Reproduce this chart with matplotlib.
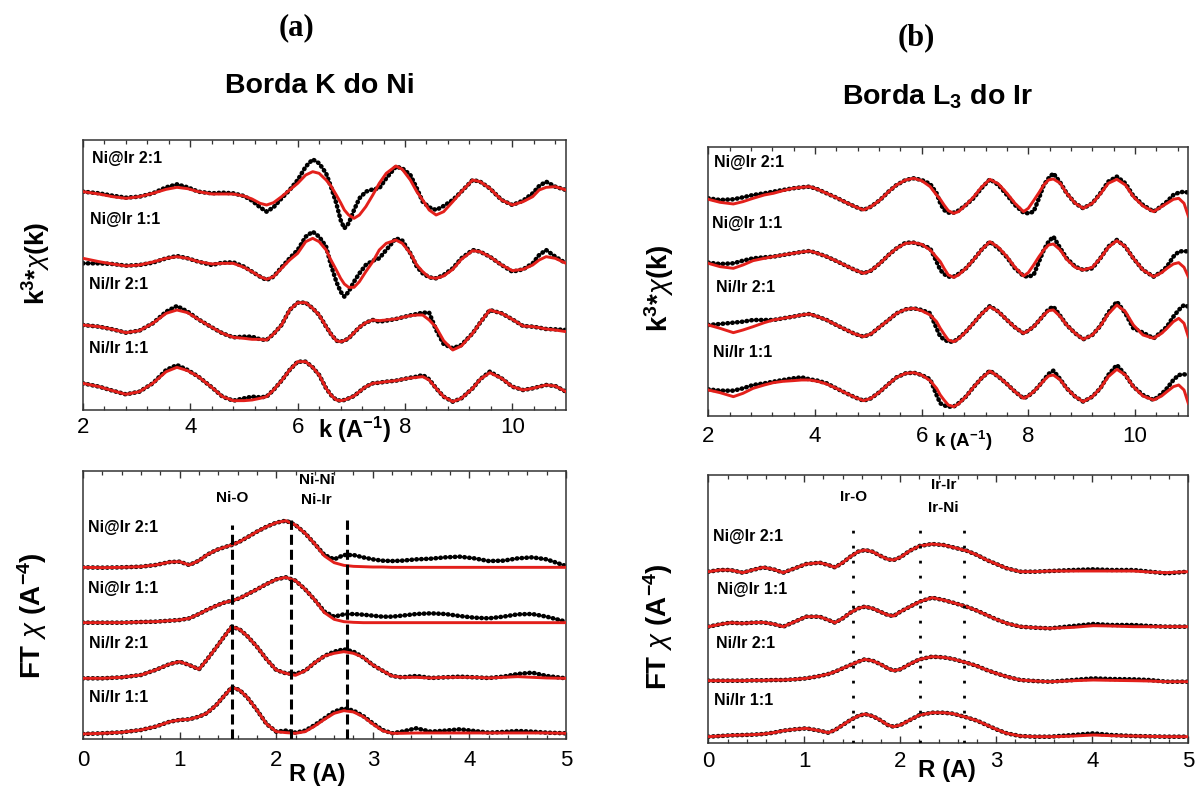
import matplotlib
matplotlib.use("Agg")
import matplotlib.pyplot as plt
from matplotlib.ticker import MultipleLocator

plt.rcParams['font.family'] = ['Liberation Sans', 'DejaVu Sans']
plt.rcParams['mathtext.fontset'] = 'custom'
plt.rcParams['mathtext.rm'] = 'Liberation Sans'
plt.rcParams['mathtext.it'] = 'Liberation Sans:italic'
plt.rcParams['mathtext.bf'] = 'Liberation Sans:bold'

samples = ["Ni@Ir 2:1", "Ni@Ir 1:1", "Ni/Ir 2:1", "Ni/Ir 1:1"]

# ---------------- Ni K edge, k-space (a, top) ----------------
k_ni = [2.0, 2.3, 2.55, 2.8, 3.05, 3.3, 3.55, 3.75, 3.95, 4.15, 4.4, 4.6, 4.8, 5.0, 5.15,
        5.3, 5.42, 5.55, 5.7, 5.85, 6.0, 6.15, 6.28, 6.4, 6.53, 6.62, 6.72, 6.8, 6.87, 6.95,
        7.05, 7.15, 7.27, 7.4, 7.52, 7.65, 7.83, 7.95, 8.1, 8.22, 8.33, 8.45, 8.58, 8.72,
        8.89, 9.05, 9.26, 9.4, 9.58, 9.8, 10.0, 10.2, 10.38, 10.5, 10.63, 10.8, 11.0]
nik_obs_1 = [65.5, 65.0, 64.3, 63.7, 64.0, 65.0, 66.8, 67.7, 66.8, 65.5, 65.0, 65.2, 65.0, 64.2, 62.8,
             60.8, 59.5, 60.8, 63.5, 66.0, 69.0, 73.0, 75.2, 74.0, 71.0, 67.0, 62.0, 57.0, 54.5, 56.0,
             60.0, 63.5, 65.5, 66.2, 66.5, 69.5, 73.0, 72.5, 70.5, 66.5, 62.5, 60.8, 60.0, 61.2,
             63.0, 65.5, 69.0, 68.5, 66.5, 63.0, 61.5, 62.8, 65.0, 67.2, 68.5, 67.0, 66.0]
nik_fit_1 = [65.5, 64.8, 64.0, 63.5, 64.0, 65.0, 66.2, 66.8, 66.4, 65.5, 64.8, 64.8, 64.8, 64.2, 63.3,
             62.0, 61.5, 62.2, 64.0, 66.0, 68.0, 70.5, 71.5, 71.0, 69.0, 67.2, 64.5, 62.2, 60.0, 58.5,
             57.5, 58.5, 61.0, 64.5, 68.0, 71.0, 73.2, 72.2, 69.0, 65.5, 63.0, 60.0, 58.5, 59.5,
             62.5, 65.5, 69.0, 68.5, 66.5, 63.0, 61.5, 62.5, 64.0, 66.0, 66.8, 67.0, 66.0]
nik_obs_2 = [44.0, 44.0, 43.8, 43.3, 43.5, 44.2, 45.5, 46.2, 45.5, 44.5, 43.5, 44.2, 44.3, 43.0, 41.5,
             40.0, 39.0, 40.0, 42.8, 45.5, 48.0, 52.0, 53.5, 52.0, 49.0, 43.5, 38.5, 35.5, 34.0, 35.5,
             38.5, 41.0, 43.5, 44.8, 45.5, 48.0, 51.5, 50.8, 47.0, 43.0, 41.0, 39.8, 39.5, 40.5,
             42.5, 45.5, 48.0, 47.5, 46.0, 43.5, 41.5, 42.2, 44.0, 46.5, 48.0, 46.0, 44.0]
nik_fit_2 = [45.5, 44.5, 43.8, 43.2, 43.5, 44.4, 45.5, 46.0, 45.5, 44.5, 43.8, 44.0, 44.0, 42.8, 41.5,
             40.0, 39.2, 40.0, 42.5, 45.0, 47.0, 50.5, 51.5, 50.5, 48.0, 45.0, 42.0, 39.5, 37.8, 36.8,
             36.8, 38.5, 41.5, 44.5, 48.0, 50.0, 51.0, 50.0, 47.0, 43.5, 41.5, 39.8, 39.5, 40.2,
             42.2, 45.2, 47.8, 47.5, 46.0, 43.5, 41.8, 42.2, 43.5, 45.0, 46.0, 45.5, 44.0]
nik_obs_3 = [25.5, 25.0, 24.2, 23.2, 23.8, 26.0, 29.5, 31.2, 29.5, 27.2, 24.8, 23.0, 21.8, 22.0, 22.0,
             21.2, 21.0, 22.8, 25.5, 30.0, 32.2, 32.2, 30.5, 28.5, 25.0, 22.8, 20.8, 20.5, 20.8, 21.5,
             23.2, 24.8, 26.2, 27.0, 26.5, 26.8, 27.3, 27.8, 28.4, 28.8, 29.2, 29.2, 24.0, 19.8,
             18.5, 19.5, 23.0, 26.2, 30.0, 29.0, 27.2, 25.2, 25.0, 24.7, 24.3, 24.2, 24.0]
nik_fit_3 = [25.5, 25.0, 24.2, 23.2, 23.8, 26.0, 29.0, 30.0, 29.2, 27.2, 24.8, 23.0, 21.8, 21.5, 21.2,
             21.2, 21.0, 22.8, 25.5, 30.0, 32.2, 32.2, 30.5, 28.5, 25.0, 22.8, 20.8, 20.5, 20.8, 21.5,
             23.2, 24.8, 26.2, 27.0, 26.8, 27.0, 27.3, 27.8, 28.3, 28.5, 28.5, 27.0, 24.8, 20.8,
             18.0, 19.2, 23.0, 26.2, 30.0, 29.0, 27.2, 25.2, 25.0, 24.7, 24.3, 24.0, 23.5]
nik_obs_4 = [8.0, 7.0, 5.8, 4.7, 5.5, 8.0, 12.0, 13.5, 12.0, 10.0, 6.8, 4.0, 2.8, 3.5, 4.0,
             3.8, 4.0, 6.0, 8.8, 12.0, 14.5, 14.5, 12.8, 10.5, 6.5, 4.5, 3.0, 2.8, 3.0, 3.5,
             4.2, 5.5, 7.0, 8.0, 8.2, 8.5, 8.8, 9.2, 9.7, 10.0, 10.5, 9.2, 6.5, 4.0,
             2.5, 3.5, 6.5, 9.2, 11.5, 9.5, 7.0, 6.0, 6.5, 7.0, 7.5, 7.2, 5.5]
nik_fit_4 = [8.0, 7.0, 5.8, 4.7, 5.5, 8.0, 11.5, 12.8, 11.8, 10.0, 6.8, 4.0, 2.8, 2.8, 3.0,
             3.5, 4.0, 6.0, 8.8, 12.0, 14.5, 14.5, 12.8, 10.5, 6.5, 4.5, 3.0, 2.8, 3.0, 3.5,
             4.2, 5.5, 7.0, 8.0, 8.2, 8.5, 8.8, 9.2, 9.6, 9.8, 10.0, 9.0, 6.5, 4.0,
             2.5, 3.5, 6.5, 9.2, 11.2, 9.5, 7.0, 6.0, 6.5, 7.0, 7.5, 7.2, 5.5]

# ---------------- Ni K edge, R-space (a, bottom) ----------------
r_ni = [0.0, 0.2, 0.4, 0.6, 0.75, 0.9, 1.0, 1.1, 1.2, 1.28, 1.38, 1.46, 1.54, 1.62, 1.7, 1.8,
        1.9, 2.0, 2.1, 2.2, 2.3, 2.4, 2.5, 2.6, 2.7, 2.8, 2.9, 3.0, 3.1, 3.2, 3.3, 3.45, 3.6,
        3.75, 3.9, 4.05, 4.2, 4.35, 4.5, 4.65, 4.8, 5.0]
nir_obs_1 = [51.6, 51.5, 51.6, 51.8, 52.3, 53.2, 53.3, 52.3, 53.6, 55.3, 56.8, 57.6, 58.3, 59.3, 60.6,
             62.3, 63.8, 65.0, 65.6, 64.3, 61.8, 58.6, 55.3, 54.0, 55.3, 55.3, 54.6, 54.0, 53.6, 53.5,
             53.6, 54.0, 54.2, 54.6, 54.8, 54.3, 53.5, 53.6, 54.3, 54.6, 54.0, 52.0]
nir_fit_1 = [51.6, 51.5, 51.6, 51.8, 52.3, 53.2, 53.3, 52.3, 53.6, 55.3, 56.8, 57.6, 58.3, 59.3, 60.6,
             62.3, 63.8, 65.0, 65.6, 64.3, 61.8, 58.6, 55.0, 53.0, 52.2, 51.9, 51.8, 51.7, 51.7, 51.6,
             51.6, 51.6, 51.6, 51.6, 51.6, 51.6, 51.6, 51.6, 51.6, 51.6, 51.6, 51.6]
nir_obs_2 = [35.0, 35.0, 35.0, 35.2, 35.3, 35.6, 35.8, 36.3, 37.6, 38.8, 40.1, 41.0, 41.6, 42.3, 43.5,
             45.0, 46.6, 48.0, 48.6, 47.6, 45.0, 41.8, 38.3, 36.8, 37.5, 37.6, 37.4, 37.1, 36.8, 36.8,
             37.1, 37.6, 37.8, 37.6, 37.0, 36.5, 36.3, 36.8, 37.5, 37.6, 36.8, 35.3]
nir_fit_2 = [35.0, 35.0, 35.0, 35.2, 35.3, 35.6, 35.8, 36.3, 37.6, 38.8, 40.1, 41.0, 41.6, 42.3, 43.5,
             45.0, 46.6, 48.0, 48.6, 47.6, 45.0, 41.8, 38.0, 36.0, 35.3, 35.1, 35.0, 35.0, 35.0, 35.0,
             35.0, 35.0, 35.0, 35.0, 35.0, 35.0, 35.0, 35.0, 35.0, 35.0, 35.0, 35.0]
nir_obs_3 = [18.3, 18.3, 18.6, 19.3, 20.8, 22.6, 23.3, 22.3, 21.0, 23.8, 27.6, 30.8, 33.8, 33.0, 31.0,
             27.8, 24.0, 20.8, 19.8, 19.6, 20.6, 23.0, 25.0, 26.3, 27.0, 26.3, 24.6, 22.3, 20.6, 19.0,
             18.6, 19.0, 18.4, 18.6, 18.8, 18.6, 18.4, 18.8, 19.6, 20.0, 19.0, 18.3]
nir_fit_3 = [18.3, 18.3, 18.6, 19.3, 20.8, 22.6, 23.3, 22.3, 21.0, 23.8, 27.6, 30.8, 33.8, 33.0, 31.0,
             27.8, 24.0, 20.8, 19.8, 19.2, 20.6, 23.0, 25.0, 25.8, 26.3, 25.8, 24.6, 22.3, 20.6, 19.0,
             18.6, 18.6, 18.4, 18.6, 18.6, 18.6, 18.4, 18.6, 18.8, 18.6, 18.4, 18.3]
nir_obs_4 = [1.6, 1.8, 2.1, 2.8, 3.8, 5.3, 5.8, 6.0, 6.8, 7.8, 10.3, 13.0, 15.6, 14.8, 12.6,
             8.8, 4.6, 2.3, 2.6, 2.0, 2.6, 4.3, 6.3, 8.3, 9.3, 8.6, 7.0, 4.8, 2.8, 1.8,
             2.3, 3.3, 2.3, 2.6, 3.0, 2.5, 2.0, 2.2, 2.5, 2.3, 2.0, 1.8]
nir_fit_4 = [1.6, 1.8, 2.1, 2.8, 3.8, 5.3, 5.8, 6.0, 6.8, 7.8, 10.3, 13.0, 15.6, 14.8, 12.6,
             8.8, 4.6, 2.3, 2.0, 1.8, 2.3, 4.0, 6.0, 7.8, 8.6, 8.2, 6.8, 4.6, 2.6, 1.8,
             1.8, 1.9, 1.9, 1.9, 1.9, 1.9, 1.9, 1.9, 1.9, 1.9, 1.9, 1.8]

# ---------------- Ir L3 edge, k-space (b, top) ----------------
k_ir = [2.0, 2.22, 2.47, 2.65, 2.84, 3.05, 3.22, 3.4, 3.59, 3.75, 3.9, 4.05, 4.22, 4.4, 4.59,
        4.75, 4.91, 5.05, 5.22, 5.38, 5.53, 5.7, 5.85, 6.0, 6.16, 6.28, 6.35, 6.42, 6.5, 6.6,
        6.69, 6.83, 6.97, 7.12, 7.28, 7.44, 7.6, 7.75, 7.91, 8.0, 8.1, 8.2, 8.29, 8.38, 8.47,
        8.6, 8.72, 8.88, 9.03, 9.2, 9.35, 9.5, 9.66, 9.82, 9.97, 10.15, 10.35, 10.5, 10.6,
        10.72, 10.82, 10.92, 11.0]
irk_obs_1 = [65.3, 64.8, 65.0, 65.6, 66.3, 66.8, 67.3, 67.8, 68.3, 68.6, 68.8, 68.0, 66.8, 65.5, 64.0,
             62.8, 61.8, 62.8, 64.8, 67.3, 69.3, 70.8, 71.3, 70.8, 69.6, 66.8, 63.8, 61.8, 61.0, 61.0,
             61.6, 63.3, 65.3, 68.3, 71.0, 69.3, 66.3, 63.3, 61.0, 60.8, 61.3, 65.3, 69.3, 71.3, 72.8,
             70.0, 66.8, 63.8, 62.3, 63.8, 66.8, 70.3, 71.8, 69.8, 66.0, 63.3, 61.3, 63.0, 64.3,
             66.3, 67.0, 67.3, 67.0]
irk_fit_1 = [65.0, 64.1, 63.6, 64.3, 65.3, 66.3, 66.8, 67.6, 68.3, 68.6, 68.8, 68.0, 66.8, 65.5, 64.0,
             62.8, 61.8, 62.8, 64.8, 67.3, 69.3, 70.8, 71.3, 70.6, 68.8, 66.3, 65.0, 63.3, 61.6, 60.8,
             61.3, 63.3, 65.6, 68.6, 71.0, 69.6, 66.8, 63.8, 61.3, 62.3, 64.6, 67.0, 69.3, 70.8, 71.1,
             69.8, 66.8, 63.8, 62.3, 63.8, 66.6, 69.8, 71.0, 69.3, 65.8, 63.0, 61.3, 62.8, 63.8,
             65.0, 65.3, 63.8, 60.0]
irk_obs_2 = [46.0, 45.6, 45.8, 46.6, 47.3, 47.6, 47.8, 48.3, 48.8, 49.2, 49.5, 48.8, 47.8, 46.5, 45.0,
             43.8, 42.8, 43.6, 45.8, 48.3, 50.3, 52.0, 52.0, 51.3, 50.3, 46.3, 43.8, 42.6, 41.8, 41.8,
             42.6, 44.3, 46.8, 49.8, 52.3, 50.3, 47.6, 44.3, 42.0, 41.8, 42.3, 46.3, 49.8, 52.3, 53.8,
             50.3, 47.3, 44.8, 43.8, 44.3, 47.3, 50.8, 52.8, 50.8, 47.3, 43.8, 41.8, 43.3, 44.8,
             47.8, 49.3, 49.5, 49.3]
irk_fit_2 = [45.8, 44.8, 44.3, 45.3, 46.6, 47.3, 47.8, 48.3, 48.8, 49.2, 49.5, 48.8, 47.8, 46.5, 45.0,
             43.8, 42.8, 43.6, 45.8, 48.3, 50.3, 51.8, 52.0, 51.5, 49.8, 47.6, 46.3, 44.3, 42.3, 41.6,
             42.3, 44.3, 46.8, 49.8, 52.3, 50.6, 47.8, 44.6, 42.0, 43.0, 45.3, 47.8, 49.8, 51.3, 51.6,
             49.8, 47.0, 44.6, 43.8, 44.6, 47.3, 50.6, 52.6, 50.8, 47.3, 43.8, 41.8, 43.0, 44.3,
             45.6, 46.0, 44.6, 41.8]
irk_obs_3 = [27.3, 27.6, 28.0, 28.3, 28.8, 28.8, 28.8, 29.3, 29.8, 30.3, 30.6, 29.8, 28.8, 27.3, 25.8,
             24.6, 23.8, 24.6, 26.8, 28.8, 30.8, 32.0, 32.3, 31.8, 30.8, 26.3, 23.8, 23.0, 22.3, 22.3,
             23.3, 25.3, 27.8, 30.6, 33.0, 31.3, 28.8, 26.6, 24.8, 25.6, 26.8, 28.6, 30.3, 32.0, 32.8,
             30.0, 27.3, 24.8, 23.0, 24.3, 27.0, 31.0, 34.3, 30.8, 26.3, 25.0, 23.3, 25.3, 26.8,
             29.8, 31.8, 33.3, 32.8]
irk_fit_3 = [27.3, 26.3, 25.0, 25.8, 26.8, 28.0, 28.8, 29.3, 29.8, 30.3, 30.6, 29.8, 28.8, 27.3, 25.8,
             24.6, 23.8, 24.6, 26.8, 28.8, 30.8, 32.0, 32.3, 31.6, 30.3, 28.3, 26.3, 24.6, 22.8, 22.3,
             23.1, 25.3, 27.8, 30.6, 32.8, 31.3, 28.8, 26.6, 24.8, 25.6, 26.8, 28.6, 30.3, 31.6, 31.8,
             29.8, 27.3, 24.8, 23.0, 24.3, 27.0, 30.6, 33.3, 31.3, 27.3, 24.3, 23.3, 24.8, 26.3,
             28.3, 29.3, 27.8, 23.8]
irk_obs_4 = [8.0, 7.6, 7.6, 8.3, 9.3, 9.8, 10.3, 10.8, 11.3, 11.6, 11.0, 10.6, 9.8, 8.3, 6.8,
             5.6, 4.6, 5.3, 7.3, 9.6, 11.6, 12.8, 13.0, 12.3, 11.0, 6.3, 3.8, 3.2, 2.8, 2.8,
             3.8, 5.8, 8.6, 11.3, 13.6, 11.8, 9.6, 7.3, 5.3, 6.0, 7.3, 9.0, 10.8, 12.6, 13.6,
             11.0, 8.3, 5.8, 4.3, 5.8, 8.3, 12.3, 15.3, 12.3, 8.8, 6.3, 4.8, 6.6, 8.3,
             10.8, 12.3, 12.5, 12.3]
irk_fit_4 = [7.8, 7.0, 5.8, 6.8, 8.3, 9.3, 10.0, 10.4, 10.6, 10.8, 10.8, 10.4, 9.6, 8.3, 6.8,
             5.6, 4.6, 5.3, 7.3, 9.6, 11.6, 12.8, 13.0, 12.3, 10.6, 8.3, 6.3, 4.8, 3.3, 2.8,
             3.6, 5.8, 8.6, 11.3, 13.5, 11.8, 9.6, 7.3, 5.3, 6.0, 7.3, 9.0, 10.6, 12.0, 12.3,
             10.8, 8.3, 5.8, 4.3, 5.8, 8.3, 11.8, 14.0, 12.3, 8.8, 6.0, 4.8, 6.0, 7.3,
             8.8, 9.3, 7.8, 3.8]

# ---------------- Ir L3 edge, R-space (b, bottom) ----------------
r_ir = [0.0, 0.12, 0.23, 0.36, 0.46, 0.57, 0.68, 0.78, 0.9, 1.02, 1.16, 1.25, 1.32, 1.4, 1.48,
        1.56, 1.63, 1.71, 1.79, 1.87, 1.93, 2.0, 2.1, 2.2, 2.33, 2.45, 2.55, 2.69, 2.8, 2.9,
        3.0, 3.11, 3.25, 3.4, 3.56, 3.8, 4.01, 4.2, 4.43, 4.6, 4.77, 5.0]
irr_obs_1 = [51.3, 51.8, 51.8, 51.0, 51.8, 52.6, 52.0, 51.0, 52.3, 53.6, 54.0, 53.3, 52.6, 54.0, 55.8,
             57.3, 57.8, 57.3, 56.1, 55.0, 54.8, 55.6, 57.6, 59.0, 59.6, 59.3, 58.6, 57.6, 56.3, 54.8,
             53.6, 52.3, 51.3, 51.3, 51.5, 51.8, 52.0, 51.8, 51.8, 51.3, 50.8, 51.3]
irr_fit_1 = [51.3, 51.8, 51.8, 51.0, 51.8, 52.6, 52.0, 51.0, 52.3, 53.6, 54.0, 53.3, 52.6, 54.0, 55.8,
             57.3, 57.8, 57.3, 56.1, 55.0, 54.8, 55.6, 57.6, 59.0, 59.6, 59.3, 58.6, 57.6, 56.3, 54.8,
             53.6, 52.3, 51.3, 51.3, 51.5, 51.5, 51.5, 51.5, 51.5, 51.2, 51.0, 51.3]
irr_obs_2 = [34.8, 35.5, 36.0, 35.8, 36.0, 36.1, 35.6, 34.8, 36.3, 37.8, 37.8, 36.8, 36.0, 37.3, 39.0,
             40.3, 40.8, 40.3, 39.3, 38.3, 38.0, 39.3, 40.8, 42.3, 43.5, 42.8, 42.0, 40.8, 39.6, 38.3,
             37.0, 35.8, 34.8, 34.5, 34.3, 35.0, 35.6, 35.3, 35.3, 35.0, 34.8, 34.8]
irr_fit_2 = [34.8, 35.5, 36.0, 35.8, 36.0, 36.1, 35.6, 34.8, 36.3, 37.8, 37.8, 36.8, 36.0, 37.3, 39.0,
             40.3, 40.8, 40.3, 39.3, 38.3, 38.0, 39.3, 40.8, 42.3, 43.5, 42.8, 42.0, 40.8, 39.6, 38.3,
             37.0, 35.8, 34.8, 34.5, 34.3, 34.6, 35.1, 35.0, 34.8, 34.8, 34.8, 34.8]
irr_obs_3 = [18.6, 18.6, 18.6, 18.6, 18.7, 18.7, 18.8, 18.8, 19.0, 19.3, 20.0, 20.6, 21.3, 22.3, 23.3,
             24.3, 25.0, 24.6, 23.6, 22.3, 21.6, 22.0, 23.6, 25.0, 25.8, 25.6, 25.1, 24.0, 23.0, 21.8,
             20.8, 19.8, 18.8, 18.5, 18.3, 18.8, 19.3, 19.1, 19.0, 18.8, 18.3, 18.3]
irr_fit_3 = [18.6, 18.6, 18.6, 18.6, 18.7, 18.7, 18.8, 18.8, 19.0, 19.3, 20.0, 20.6, 21.3, 22.3, 23.3,
             24.3, 25.0, 24.6, 23.6, 22.3, 21.6, 22.0, 23.6, 25.0, 25.8, 25.6, 25.1, 24.0, 23.0, 21.8,
             20.8, 19.8, 18.8, 18.5, 18.3, 18.6, 18.8, 18.7, 18.6, 18.5, 18.3, 18.3]
irr_obs_4 = [1.8, 2.0, 2.2, 2.3, 2.4, 2.6, 3.0, 3.6, 4.0, 4.3, 3.6, 3.0, 3.8, 5.3, 6.8,
             8.0, 8.6, 8.0, 6.8, 5.3, 4.8, 5.3, 6.8, 8.3, 9.0, 9.0, 8.7, 7.6, 6.6, 5.3,
             4.0, 2.8, 2.0, 1.8, 1.8, 2.3, 2.8, 2.3, 2.0, 1.9, 1.8, 1.8]
irr_fit_4 = [1.8, 2.0, 2.2, 2.3, 2.4, 2.6, 3.0, 3.6, 4.0, 4.3, 3.6, 3.0, 3.8, 5.3, 6.8,
             8.0, 8.6, 8.0, 6.8, 5.3, 4.8, 5.3, 6.8, 8.3, 9.0, 9.0, 8.7, 7.6, 6.6, 5.3,
             4.0, 2.8, 2.0, 1.8, 1.8, 2.0, 2.3, 2.1, 2.0, 1.9, 1.8, 1.8]

# peak markers
ni_peak_r = [1.54, 2.15, 2.73]
ni_peak_top = [64.3, 65.8, 65.8]
ir_peak_r = [1.51, 2.21, 2.66]
ir_peak_top = [65.8, 65.3, 65.3]

RED = '#e3201b'

fig = plt.figure(figsize=(11.95, 7.94), dpi=100)

ax_tl = fig.add_axes([0.06946, 0.48363, 0.40418, 0.34005])
ax_bl = fig.add_axes([0.06946, 0.06889, 0.40418, 0.33829])
ax_tr = fig.add_axes([0.59272, 0.47607, 0.40167, 0.33841])
ax_br = fig.add_axes([0.59272, 0.06461, 0.40167, 0.33715])


def draw_curves(ax, x, obs_list, fit_list):
    for obs, fit in zip(obs_list, fit_list):
        ax.plot(x, obs, color='black', lw=3.3, ls=(0, (0.1, 0.95)),
                dash_capstyle='round', zorder=2)
        ax.plot(x, fit, color=RED, lw=2.1, zorder=3)


def style_axes(ax, xlim, ylim, major, minor, pad):
    ax.set_xlim(*xlim)
    ax.set_ylim(*ylim)
    ax.set_yticks([])
    ax.xaxis.set_major_locator(MultipleLocator(major))
    ax.xaxis.set_minor_locator(MultipleLocator(minor))
    ax.tick_params(axis='x', which='major', direction='in', top=True, bottom=True,
                   length=5, width=1.0, labelsize=16, pad=pad, color='#333333')
    ax.tick_params(axis='x', which='minor', direction='in', top=True, bottom=True,
                   length=3, width=0.9, color='#333333')
    for sp in ax.spines.values():
        sp.set_color('#333333')
        sp.set_linewidth(1.1)


def sample_labels(ax, xs, ys):
    for name, x, y in zip(samples, xs, ys):
        ax.text(x, y, name, transform=ax.transAxes, ha='left', va='center',
                fontsize=11.5, fontweight='bold')


# --- top-left
draw_curves(ax_tl, k_ni, [nik_obs_1, nik_obs_2, nik_obs_3, nik_obs_4],
            [nik_fit_1, nik_fit_2, nik_fit_3, nik_fit_4])
style_axes(ax_tl, (2, 11), (0, 81), 2, 0.4, 5)
sample_labels(ax_tl, [0.018, 0.0145, 0.013, 0.013], [0.933, 0.707, 0.463, 0.226])
ax_tl.text(0.563, -0.074, r'k (A$^{\mathbf{-1}}$)', transform=ax_tl.transAxes,
           ha='center', va='center', fontsize=17, fontweight='bold')
ax_tl.text(-0.095, 0.544, r'k$^{\mathbf{3}}$*$\chi$(k)', transform=ax_tl.transAxes,
           rotation=90, ha='center', va='center', fontsize=19, fontweight='bold')

# --- bottom-left
draw_curves(ax_bl, r_ni, [nir_obs_1, nir_obs_2, nir_obs_3, nir_obs_4],
            [nir_fit_1, nir_fit_2, nir_fit_3, nir_fit_4])
style_axes(ax_bl, (0, 5), (0, 80.6), 1, 0.2, 8)
for r, top in zip(ni_peak_r, ni_peak_top):
    ax_bl.plot([r, r], [0, top], color='black', lw=2.2, ls=(0, (3.3, 1.6)), zorder=4)
ax_bl.text(1.54, 72.3, 'Ni-O', ha='center', va='center', fontsize=11, fontweight='bold')
ax_bl.text(2.42, 77.8, 'Ni-Ni', ha='center', va='center', fontsize=11, fontweight='bold')
ax_bl.text(2.42, 71.8, 'Ni-Ir', ha='center', va='center', fontsize=11, fontweight='bold')
sample_labels(ax_bl, [0.011, 0.011, 0.013, 0.013], [0.787, 0.563, 0.358, 0.157])
ax_bl.text(0.484, -0.131, 'R (A)', transform=ax_bl.transAxes,
           ha='center', va='center', fontsize=17, fontweight='bold')
ax_bl.text(-0.106, 0.459, r'FT $\chi$ (A$^{\mathbf{-4}}$)', transform=ax_bl.transAxes,
           rotation=90, ha='center', va='center', fontsize=20, fontweight='bold')

# --- top-right
draw_curves(ax_tr, k_ir, [irk_obs_1, irk_obs_2, irk_obs_3, irk_obs_4],
            [irk_fit_1, irk_fit_2, irk_fit_3, irk_fit_4])
style_axes(ax_tr, (2, 11), (0, 80.6), 2, 0.4, 7)
sample_labels(ax_tr, [0.0125, 0.008, 0.015, 0.0104], [0.944, 0.717, 0.48, 0.238])
ax_tr.text(0.531, -0.093, r'k (A$^{\mathbf{-1}}$)', transform=ax_tr.transAxes,
           ha='center', va='center', fontsize=13.5, fontweight='bold')
ax_tr.text(-0.102, 0.476, r'k$^{\mathbf{3}}$*$\chi$(k)', transform=ax_tr.transAxes,
           rotation=90, ha='center', va='center', fontsize=20, fontweight='bold')

# --- bottom-right
draw_curves(ax_br, r_ir, [irr_obs_1, irr_obs_2, irr_obs_3, irr_obs_4],
            [irr_fit_1, irr_fit_2, irr_fit_3, irr_fit_4])
style_axes(ax_br, (0, 5), (0, 80.3), 1, 0.2, 6)
for r, top in zip(ir_peak_r, ir_peak_top):
    ax_br.plot([r, r], [0, top], color='black', lw=2.0, ls=(0, (1.0, 4.4)), zorder=4)
ax_br.text(1.51, 73.8, 'Ir-O', ha='center', va='center', fontsize=11, fontweight='bold')
ax_br.text(2.45, 77.3, 'Ir-Ir', ha='center', va='center', fontsize=11, fontweight='bold')
ax_br.text(2.45, 70.3, 'Ir-Ni', ha='center', va='center', fontsize=11, fontweight='bold')
sample_labels(ax_br, [0.01, 0.019, 0.015, 0.011], [0.769, 0.571, 0.369, 0.158])
ax_br.text(0.498, -0.104, 'R (A)', transform=ax_br.transAxes,
           ha='center', va='center', fontsize=17.5, fontweight='bold')
ax_br.text(-0.104, 0.433, r'FT $\chi$ (A$^{\mathbf{-4}}$)', transform=ax_br.transAxes,
           rotation=90, ha='center', va='center', fontsize=20, fontweight='bold')

# --- titles
fig.text(0.2477, 0.9647, '(a)', ha='center', va='center', fontsize=22,
         fontweight='bold', family=['Liberation Serif', 'DejaVu Serif'])
fig.text(0.7665, 0.9521, '(b)', ha='center', va='center', fontsize=22,
         fontweight='bold', family=['Liberation Serif', 'DejaVu Serif'])
fig.text(0.2678, 0.8917, 'Borda K do Ni', ha='center', va='center', fontsize=20.5,
         fontweight='bold')
fig.text(0.7841, 0.8778, r'Borda L$_{\mathbf{3}}$ do Ir', ha='center', va='center',
         fontsize=20.5, fontweight='bold')

fig.savefig('out.png', dpi=100)
